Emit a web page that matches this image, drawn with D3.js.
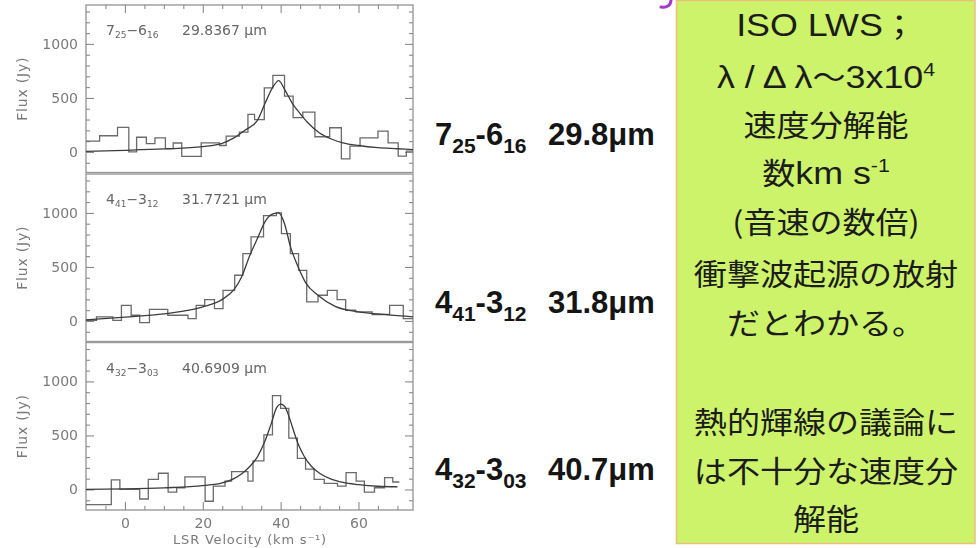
<!DOCTYPE html>
<html>
<head>
<meta charset="utf-8">
<script src="https://cdn.jsdelivr.net/npm/d3@7"></script>
<style>
  html, body { margin: 0; padding: 0; background: #fff; }
  svg { display: block; }
</style>
</head>
<body>
<svg id="chart" width="980" height="548"></svg>
<script>
// ---- axis ticks -------------------------------------------------------
const velocityMajor = [0, 20, 40, 60];
const fluxMajor = [0, 500, 1000];

// ---- H2O 7(25)-6(16) 29.8367 um : histogram bin edges (km/s) and flux (Jy)
const p1Edges = [-10, -6.5, -1.9, 1, 3, 5.5, 7.7, 10.4, 12.4, 14.6, 19.6, 24.3, 26, 29.4, 31.6, 33.3, 35.8, 38, 41, 43.2, 45.7, 48.8, 52.6, 55.6, 57.8, 60.4, 65, 67.6, 70.2, 72.3, 74];
const p1Flux  = [100, 150, 228, 0, 136, 77, 130, 31, 83, -40, 85, 60, 146, 183, 347, 300, 594, 708, 517, 317, 369, 141, 224, -63, 54, 131, 193, 85, -39, 7];
const p1FitV    = [-10, 0, 10, 20, 25, 28, 31, 34, 36, 38, 39.5, 41, 43, 45, 47, 50, 53, 56, 60, 65, 70, 74];
const p1FitFlux = [5, 15, 28, 50, 80, 130, 205, 290, 450, 600, 660, 580, 450, 355, 270, 175, 120, 85, 60, 40, 30, 22];

// ---- H2O 4(41)-3(12) 31.7721 um
const p2Edges = [-10, -7.3, -3.1, -0.9, 1.6, 3.8, 6.3, 11, 16.2, 18.3, 20.5, 23, 25.2, 28.2, 30.3, 32.4, 35.6, 38.9, 40.2, 42.5, 44.6, 46.7, 49.6, 52, 54.5, 56.7, 59.3, 63.5, 68, 71.5, 74];
const p2Flux  = [6, 37, 6, 145, 53, -15, 108, 53, 22, 145, 198, 115, 284, 423, 624, 778, 975, 1000, 809, 624, 469, 176, 238, 284, 198, 99, 84, 60, 145, 22];
const p2FitV    = [-10, 0, 10, 20, 25, 28, 30, 32, 34, 36, 38, 39.5, 41, 42.5, 44.5, 46.5, 49.5, 54, 60, 65, 70, 74];
const p2FitFlux = [10, 35, 65, 130, 200, 290, 410, 600, 760, 920, 990, 1000, 900, 690, 500, 350, 240, 135, 85, 65, 50, 38];

// ---- H2O 4(32)-3(03) 40.6909 um
const p3Edges = [-10, -3.5, -1.3, 3.8, 6, 8.6, 11.1, 13.3, 15.4, 20.6, 22.7, 25.7, 27.4, 31.6, 32.9, 35.7, 37.9, 40, 42.1, 44.3, 46.4, 48.6, 51.2, 54.6, 56.8, 59.4, 61.5, 64.1, 66.7, 68.8, 70.5];
const p3Flux  = [-140, 88, 0, -88, 94, 150, -25, 16, 116, -109, 31, 78, 165, 78, 265, 506, 869, 750, 475, 288, 188, 94, 56, 31, 156, 78, -25, 16, 109, 69];
const p3FitV    = [-10, 0, 10, 20, 25, 28, 30, 32, 34, 36, 37.5, 39, 40, 41, 42, 43, 44.5, 46, 48, 50, 53, 56, 60, 65, 70];
const p3FitFlux = [0, 5, 15, 35, 60, 100, 145, 210, 300, 450, 600, 760, 790, 770, 690, 580, 420, 310, 210, 150, 95, 65, 45, 30, 25];

// ---- labels -----------------------------------------------------------
const panelUpper = [["7", "25"], ["4", "41"], ["4", "32"]];
const panelLower = [["6", "16"], ["3", "12"], ["3", "03"]];
const panelWave  = ["29.8367", "31.7721", "40.6909"];
const sideWave   = ["29.8μm", "31.8μm", "40.7μm"];

const noteLines = [
  [["ISO LWS", "lat"], ["；", "cjk"]],
  [["λ / Δ λ", "lat"], ["～", "cjk"], ["3x10", "lat"], ["4", "sup"]],
  [["速度分解能", "cjk"]],
  [["数", "cjk"], ["km s", "lat"], ["-1", "sup"]],
  [["(音速の数倍)", "cjk"]],
  [["衝撃波起源の放射", "cjk"]],
  [["だとわかる。", "cjk"]],
  [],
  [["熱的輝線の議論に", "cjk"]],
  [["は不十分な速度分", "cjk"]],
  [["解能", "cjk"]]
];

// ---- layout -----------------------------------------------------------
const svg = d3.select("#chart");
const plotL = 86, plotR = 413;
const panelTops = [5, 174, 342.5];
const panelH = 167.5;
const grey = "#7a7a7a";
const tickFont = "DejaVu Sans, Verdana, sans-serif";

const defs = svg.append("defs");
defs.append("filter").attr("id", "soft")
  .attr("x", "-5%").attr("y", "-5%").attr("width", "110%").attr("height", "110%")
  .append("feGaussianBlur").attr("stdDeviation", 0.65);

const x = d3.scaleLinear().domain([-10, 74]).range([plotL, plotR]);

const plot = svg.append("g").attr("filter", "url(#soft)");

const panels = [
  { edges: p1Edges, flux: p1Flux, fitV: p1FitV, fitF: p1FitFlux },
  { edges: p2Edges, flux: p2Flux, fitV: p2FitV, fitF: p2FitFlux },
  { edges: p3Edges, flux: p3Flux, fitV: p3FitV, fitF: p3FitFlux }
];

const minorFlux = d3.range(-100, 1301, 100).filter(v => !fluxMajor.includes(v));
const minorVel = d3.range(-5, 74, 5).filter(v => !velocityMajor.includes(v));

panels.forEach((p, i) => {
  const top = panelTops[i], bottom = top + panelH;
  const y = d3.scaleLinear().domain([-190, 1360]).range([bottom, top]);
  const g = plot.append("g");

  const clipId = "clip" + i;
  defs.append("clipPath").attr("id", clipId)
    .append("rect").attr("x", plotL).attr("y", top).attr("width", plotR - plotL).attr("height", panelH);

  // frame
  g.append("rect")
    .attr("x", plotL).attr("y", top)
    .attr("width", plotR - plotL).attr("height", panelH)
    .attr("fill", "none").attr("stroke", "#9a9a9a").attr("stroke-width", 1.4);

  // y axes (ticks pointing inward on both sides)
  const styleAxis = sel => {
    sel.select(".domain").remove();
    sel.selectAll("line").attr("stroke", "#8a8a8a").attr("stroke-width", 1.1);
    sel.selectAll("text").attr("fill", grey).attr("font-family", tickFont).attr("font-size", 14);
  };
  g.append("g").attr("transform", `translate(${plotL},0)`)
    .call(d3.axisLeft(y).tickValues(fluxMajor).tickSize(-8).tickPadding(8).tickFormat(d3.format("d")))
    .call(styleAxis);
  g.append("g").attr("transform", `translate(${plotL},0)`)
    .call(d3.axisLeft(y).tickValues(minorFlux).tickSize(-4).tickFormat(""))
    .call(styleAxis);
  g.append("g").attr("transform", `translate(${plotR},0)`)
    .call(d3.axisRight(y).tickValues(fluxMajor).tickSize(-8).tickFormat(""))
    .call(styleAxis);
  g.append("g").attr("transform", `translate(${plotR},0)`)
    .call(d3.axisRight(y).tickValues(minorFlux).tickSize(-4).tickFormat(""))
    .call(styleAxis);

  if (i === 0) {
    g.append("g").attr("transform", `translate(0,${top})`)
      .call(d3.axisTop(x).tickValues(velocityMajor).tickSize(-8).tickFormat(""))
      .call(styleAxis);
    g.append("g").attr("transform", `translate(0,${top})`)
      .call(d3.axisTop(x).tickValues(minorVel).tickSize(-4).tickFormat(""))
      .call(styleAxis);
  }
  if (i === 2) {
    g.append("g").attr("transform", `translate(0,${bottom})`)
      .call(d3.axisBottom(x).tickValues(velocityMajor).tickSize(-8).tickPadding(8).tickFormat(d3.format("d")))
      .call(styleAxis);
    g.append("g").attr("transform", `translate(0,${bottom})`)
      .call(d3.axisBottom(x).tickValues(minorVel).tickSize(-4).tickFormat(""))
      .call(styleAxis);
  }

  // y title
  g.append("text")
    .attr("transform", `translate(27,${top + panelH / 2}) rotate(-90)`)
    .attr("text-anchor", "middle")
    .attr("font-family", tickFont).attr("font-size", 14).attr("letter-spacing", 0.8)
    .attr("fill", grey)
    .text("Flux (Jy)");

  // transition label inside panel
  const lab = g.append("text")
    .attr("x", 106).attr("y", top + 30)
    .attr("font-family", tickFont).attr("font-size", 14).attr("fill", "#666");
  lab.append("tspan").text(panelUpper[i][0]);
  lab.append("tspan").attr("font-size", 9).attr("dy", 3).text(panelUpper[i][1]);
  lab.append("tspan").attr("dy", -3).text("−" + panelLower[i][0]);
  lab.append("tspan").attr("font-size", 9).attr("dy", 3).text(panelLower[i][1]);
  lab.append("tspan").attr("dy", -3).attr("x", 182).text(panelWave[i] + "  μm");

  // observed spectrum (stepped histogram)
  const pts = p.flux.map((f, k) => [p.edges[k], f]);
  pts.push([p.edges[p.edges.length - 1], p.flux[p.flux.length - 1]]);
  g.append("path")
    .attr("clip-path", `url(#${clipId})`)
    .attr("d", d3.line().x(d => x(d[0])).y(d => y(d[1])).curve(d3.curveStepAfter)(pts))
    .attr("fill", "none").attr("stroke", "#6a6a6a").attr("stroke-width", 1.3);

  // profile fit
  const fit = p.fitV.map((v, k) => [v, p.fitF[k]]);
  g.append("path")
    .attr("clip-path", `url(#${clipId})`)
    .attr("d", d3.line().x(d => x(d[0])).y(d => y(d[1])).curve(d3.curveMonotoneX)(fit))
    .attr("fill", "none").attr("stroke", "#3c3c3c").attr("stroke-width", 1.3);
});

// x title along the bottom edge
plot.append("text")
  .attr("x", 250).attr("y", 544)
  .attr("text-anchor", "middle")
  .attr("font-family", tickFont).attr("font-size", 13).attr("letter-spacing", 0.8)
  .attr("fill", grey)
  .text("LSR Velocity (km s⁻¹)");

// ---- bold transition labels beside the panels ------------------------
const sideBase = [145, 313, 480];
sideBase.forEach((b, i) => {
  const t = svg.append("text")
    .attr("x", 435).attr("y", b)
    .attr("font-family", "Liberation Sans, Arial, sans-serif")
    .attr("font-weight", "bold").attr("font-size", 31).attr("fill", "#151515");
  t.append("tspan").text(panelUpper[i][0]);
  t.append("tspan").attr("font-size", 21).attr("dy", 8).text(panelUpper[i][1]);
  t.append("tspan").attr("dy", -8).text("-" + panelLower[i][0]);
  t.append("tspan").attr("font-size", 21).attr("dy", 8).text(panelLower[i][1]);
  t.append("tspan").attr("dy", -8).attr("x", 548).text(sideWave[i]);
});

// ---- note box -----------------------------------------------------------
// small purple hook poking in at the top edge beside the box
svg.append("path")
  .attr("d", "M671,0 C671,5 667,8 661,7")
  .attr("fill", "none").attr("stroke", "#a43ad0").attr("stroke-width", 3)
  .attr("stroke-linecap", "round");

svg.append("rect")
  .attr("x", 676.5).attr("y", 0.5)
  .attr("width", 298.5).attr("height", 543)
  .attr("fill", "#cdf36a").attr("stroke", "#ebc07c").attr("stroke-width", 1.5);

const note = svg.append("g").attr("transform", "translate(826,0) scale(1.12,1)");
const fonts = {
  cjk: { family: "Noto Sans CJK JP, sans-serif", size: 29.5 },
  lat: { family: "Liberation Sans, Arial, sans-serif", size: 32 },
  sup: { family: "Liberation Sans, Arial, sans-serif", size: 19 }
};
const noteBase = [36, 88, 136, 184, 233, 285, 334, 383, 433, 482, 530];
noteLines.forEach((parts, i) => {
  if (!parts.length) return;
  const t = note.append("text")
    .attr("x", 0).attr("y", noteBase[i])
    .attr("text-anchor", "middle").attr("fill", "#1c1c1c");
  let raised = false;
  parts.forEach(([s, kind]) => {
    const ts = t.append("tspan")
      .attr("font-family", fonts[kind].family)
      .attr("font-size", fonts[kind].size)
      .text(s);
    if (kind === "sup" && !raised) { ts.attr("dy", -12); raised = true; }
    else if (kind !== "sup" && raised) { ts.attr("dy", 12); raised = false; }
  });
});
</script>
</body>
</html>
